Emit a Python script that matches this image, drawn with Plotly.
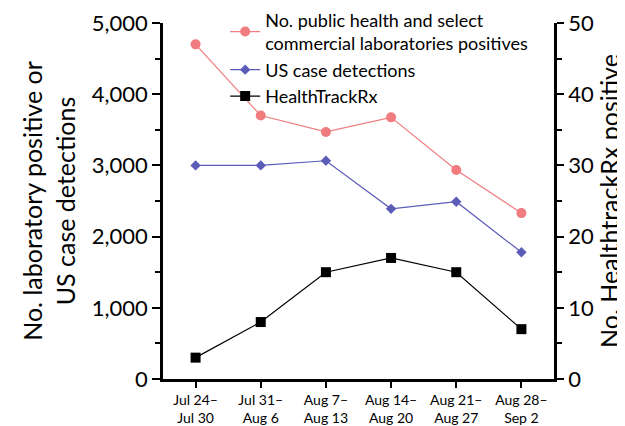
import plotly.graph_objects as go

weeks = ["Jul 24–<br>Jul 30", "Jul 31–<br>Aug 6", "Aug 7–<br>Aug 13",
         "Aug 14–<br>Aug 20", "Aug 21–<br>Aug 27", "Aug 28–<br>Sep 2"]
lab_positives = [4700, 3700, 3470, 3675, 2935, 2330]
us_detections = [3000, 3000, 3065, 2390, 2490, 1780]
healthtrack = [3, 8, 15, 17, 15, 7]

FONT = "Lato"
xs = list(range(len(weeks)))

fig = go.Figure()
fig.add_trace(go.Scatter(
    x=xs, y=lab_positives, mode="lines+markers",
    name="No. public health and select<br>commercial laboratories positives",
    line=dict(color="#F07C80", width=1.2),
    marker=dict(symbol="circle", size=10, color="#F07C80")))
fig.add_trace(go.Scatter(
    x=xs, y=us_detections, mode="lines+markers",
    name="US case detections",
    line=dict(color="#5B5BB8", width=1.2),
    marker=dict(symbol="diamond", size=8, color="#5B5BB8")))
fig.add_trace(go.Scatter(
    x=xs, y=healthtrack, mode="lines+markers", yaxis="y2",
    name="HealthTrackRx",
    line=dict(color="black", width=1.2),
    marker=dict(symbol="square", size=10, color="black")))

fig.update_layout(
    width=617, height=418,
    margin=dict(l=155, r=71, t=15, b=47, autoexpand=False),
    paper_bgcolor="white", plot_bgcolor="white",
    font=dict(family=FONT, color="black"),
    showlegend=True,
    legend=dict(x=0.159, y=1.06, xanchor="left", yanchor="top",
                bgcolor="rgba(0,0,0,0)", font=dict(size=18, family=FONT),
                itemwidth=30, tracegroupgap=0),
    xaxis=dict(range=[-0.5, 5.5], tickmode="array", tickvals=xs, ticktext=weeks,
               showline=True, linecolor="black", linewidth=2.5, automargin=False,
               ticks="outside", ticklen=6, tickwidth=2, tickcolor="black",
               showgrid=False, zeroline=False, tickfont=dict(size=14)),
    yaxis=dict(range=[0, 5000], dtick=1000, tickformat=",d", automargin=False,
               showline=True, linecolor="black", linewidth=2.5,
               ticks="outside", ticklen=8, tickwidth=2, tickcolor="black",
               minor=dict(dtick=500, ticks="outside", ticklen=5, tickwidth=2, tickcolor="black"),
               showgrid=False, zeroline=False, tickfont=dict(size=22),
               title=dict(text="No. laboratory positive or<br>US case detections",
                          font=dict(size=25), standoff=10)),
    yaxis2=dict(range=[0, 50], dtick=10, overlaying="y", side="right", automargin=False,
                showline=True, linecolor="black", linewidth=2.5,
                ticks="outside", ticklen=7, tickwidth=2, tickcolor="black",
                minor=dict(dtick=5, ticks="outside", ticklen=5, tickwidth=2, tickcolor="black"),
                showgrid=False, zeroline=False, tickfont=dict(size=22),
                title=dict(text="No. HealthtrackRx positive", font=dict(size=25), standoff=8)),
)

fig.write_html("out.html")
